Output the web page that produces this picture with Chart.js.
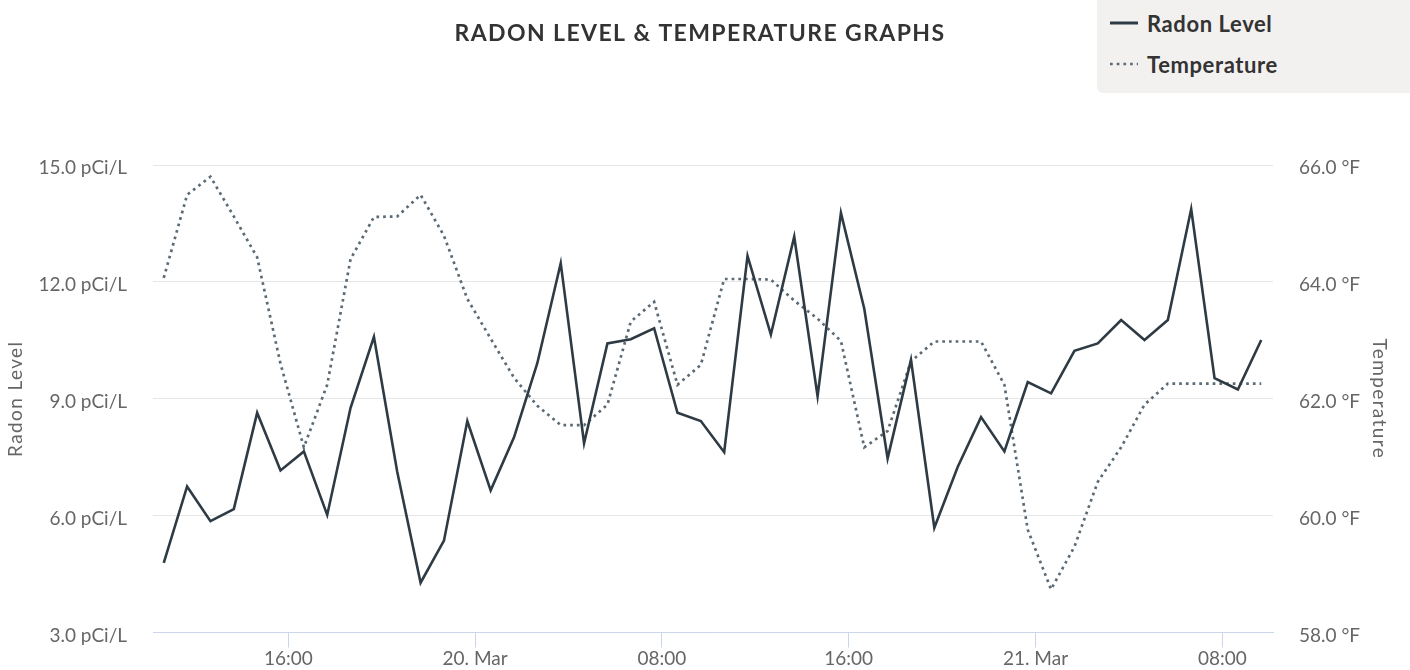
<!DOCTYPE html>
<html>
<head>
<meta charset="utf-8">
<script src="https://cdn.jsdelivr.net/npm/chart.js@4.4.1/dist/chart.umd.min.js"></script>
<style>
  html, body { margin: 0; padding: 0; background: #ffffff; }
  #wrap { position: relative; width: 1410px; height: 670px; overflow: hidden; }
  #c { position: absolute; left: 0; top: 0; }
  #legend { position: absolute; left: 1097px; top: 0; width: 313px; height: 93px;
            background: #f2f1f0; border-bottom-left-radius: 6px;
            font-family: Lato, "Open Sans", sans-serif; font-weight: bold; font-size: 22px;
            letter-spacing: 0.6px; color: #333333; }
  .item { position: absolute; left: 13px; height: 24px; display: flex; align-items: center; white-space: nowrap; }
  .item svg { margin-right: 9px; display: block; }
</style>
</head>
<body>
<div id="wrap">
  <canvas id="c" width="1410" height="670"></canvas>
  <div id="legend"></div>
</div>
<script>
// ---- data ----
const timeLabels = [
  '03-19 10:40','03-19 11:40','03-19 12:40','03-19 13:40','03-19 14:40','03-19 15:40','03-19 16:40',
  '03-19 17:40','03-19 18:40','03-19 19:40','03-19 20:40','03-19 21:40','03-19 22:40','03-19 23:40',
  '03-20 00:40','03-20 01:40','03-20 02:40','03-20 03:40','03-20 04:40','03-20 05:40','03-20 06:40',
  '03-20 07:40','03-20 08:40','03-20 09:40','03-20 10:40','03-20 11:40','03-20 12:40','03-20 13:40',
  '03-20 14:40','03-20 15:40','03-20 16:40','03-20 17:40','03-20 18:40','03-20 19:40','03-20 20:40',
  '03-20 21:40','03-20 22:40','03-20 23:40','03-21 00:40','03-21 01:40','03-21 02:40','03-21 03:40',
  '03-21 04:40','03-21 05:40','03-21 06:40','03-21 07:40','03-21 08:40','03-21 09:40'
];
const radonLevel = [
  4.79, 6.75, 5.86, 6.17, 8.64, 7.16, 7.65, 6.02, 8.77, 10.59, 7.12, 4.28,
  5.36, 8.43, 6.65, 8.01, 9.92, 12.48, 7.86, 10.42, 10.53, 10.81, 8.64, 8.43,
  7.63, 12.67, 10.65, 13.16, 9.07, 13.77, 11.31, 7.47, 10.00, 5.69, 7.25, 8.53,
  7.65, 9.43, 9.14, 10.23, 10.42, 11.02, 10.51, 11.02, 13.87, 9.53, 9.24, 10.51
];
const temperature = [
  64.07, 65.49, 65.80, 65.12, 64.42, 62.60, 61.17, 62.24, 64.39, 65.11, 65.12, 65.49,
  64.79, 63.71, 63.03, 62.36, 61.88, 61.55, 61.55, 61.90, 63.32, 63.66, 62.24, 62.58,
  64.05, 64.05, 64.04, 63.68, 63.37, 62.99, 61.17, 61.45, 62.64, 62.98, 62.98, 62.98,
  62.24, 59.76, 58.74, 59.47, 60.58, 61.17, 61.90, 62.26, 62.26, 62.26, 62.26, 62.26
];
const tickHours  = [16, 24, 32, 40, 48, 56];
const tickLabels = ['16:00', '20. Mar', '08:00', '16:00', '21. Mar', '08:00'];
const radonTicks = [3, 6, 9, 12, 15];
const tempTicks  = [58, 60, 62, 64, 66];
const seriesNames = ['Radon Level', 'Temperature'];
const titleText = 'RADON LEVEL & TEMPERATURE GRAPHS';

// hours since 19 Mar 00:00
function toHours(s) {
  const day = parseInt(s.slice(3, 5), 10) - 19;
  const h = parseInt(s.slice(6, 8), 10);
  const m = parseInt(s.slice(9, 11), 10);
  return day * 24 + h + m / 60;
}
const xs = timeLabels.map(toHours);

const FONT = 'Lato';
const radonColor = '#2e3b44';
const tempColor = '#5b6a74';

// wider tracking for the title texts (drawn before datasets), normal tracking for tick labels
const trackingPlugin = {
  id: 'tracking',
  beforeDraw(chart) { chart.ctx.letterSpacing = '1.4px'; },
  beforeDatasetsDraw(chart) { chart.ctx.letterSpacing = '0px'; }
};

function build() {
  const chart = new Chart(document.getElementById('c'), {
    type: 'line',
    data: {
      datasets: [
        {
          label: seriesNames[0],
          data: xs.map((x, i) => ({ x: x, y: radonLevel[i] })),
          yAxisID: 'y',
          borderColor: radonColor,
          backgroundColor: radonColor,
          borderWidth: 2.6,
          pointRadius: 0,
          tension: 0,
          fill: false
        },
        {
          label: seriesNames[1],
          data: xs.map((x, i) => ({ x: x, y: temperature[i] })),
          yAxisID: 'y1',
          borderColor: tempColor,
          backgroundColor: tempColor,
          borderWidth: 2.7,
          borderDash: [2.7, 4],
          pointRadius: 0,
          tension: 0,
          fill: false
        }
      ]
    },
    options: {
      responsive: false,
      animation: false,
      layout: { padding: { left: 0, top: 0, bottom: 0, right: 10 } },
      plugins: {
        legend: { display: false },
        tooltip: { enabled: false },
        title: {
          display: true,
          text: titleText,
          color: '#333333',
          font: { family: FONT, size: 23, weight: 'bold' },
          padding: { top: 20.2, bottom: 117.2 }
        }
      },
      scales: {
        x: {
          type: 'linear',
          position: 'bottom',
          min: 10.206,
          max: 58.17,
          afterBuildTicks: (s) => { s.ticks = tickHours.map(v => ({ value: v })); },
          afterFit: (s) => { s.height = 34.65; },
          ticks: {
            z: 1,
            autoSkip: false,
            maxRotation: 0,
            padding: 0,
            color: '#666666',
            font: { family: FONT, size: 19 },
            callback: (v, i) => tickLabels[i]
          },
          grid: { drawOnChartArea: false, drawTicks: true, tickLength: 15, color: '#ccd6eb', lineWidth: 1 },
          border: { display: true, color: '#ccd6eb', width: 1 }
        },
        y: {
          position: 'left',
          min: radonTicks[0],
          max: radonTicks[radonTicks.length - 1],
          afterBuildTicks: (s) => { s.ticks = radonTicks.map(v => ({ value: v })); },
          afterFit: (s) => { s.width = 153; },
          ticks: {
            z: 1,
            padding: 26,
            labelOffset: 3,
            color: '#666666',
            font: { family: FONT, size: 19 },
            callback: (v) => Number(v).toFixed(1) + ' pCi/L'
          },
          grid: {
            drawTicks: false,
            lineWidth: 1,
            color: (ctx) => (ctx.tick && ctx.tick.value === radonTicks[0]) ? 'rgba(0,0,0,0)' : '#e6e6e6'
          },
          border: { display: false },
          title: {
            display: true,
            text: seriesNames[0],
            color: '#666666',
            font: { family: FONT, size: 19 },
            padding: { top: 4, bottom: 0 }
          }
        },
        y1: {
          position: 'right',
          min: tempTicks[0],
          max: tempTicks[tempTicks.length - 1],
          afterBuildTicks: (s) => { s.ticks = tempTicks.map(v => ({ value: v })); },
          afterFit: (s) => { s.width = 127; },
          ticks: {
            z: 1,
            padding: 26,
            labelOffset: 3,
            color: '#666666',
            font: { family: FONT, size: 19 },
            callback: (v) => Number(v).toFixed(1) + ' °F'
          },
          grid: { drawOnChartArea: false, drawTicks: false },
          border: { display: false },
          title: {
            display: true,
            text: seriesNames[1],
            color: '#666666',
            font: { family: FONT, size: 19 },
            padding: { top: 9.6, bottom: 0 }
          }
        }
      }
    },
    plugins: [trackingPlugin]
  });

  // HTML legend built from the chart's datasets
  const legend = document.getElementById('legend');
  const tops = [11, 52];
  chart.data.datasets.forEach((ds, i) => {
    const item = document.createElement('div');
    item.className = 'item';
    item.style.top = tops[i] + 'px';
    const dash = ds.borderDash ? ' stroke-dasharray="' + ds.borderDash.join(' ') + '"' : '';
    item.innerHTML =
      '<svg width="28" height="6" viewBox="0 0 28 6"><line x1="0" y1="3" x2="28" y2="3" stroke="' +
      ds.borderColor + '" stroke-width="' + (ds.borderDash ? 2.7 : 3) + '"' + dash + '/></svg>' +
      '<span>' + ds.label + '</span>';
    legend.appendChild(item);
  });
}

if (document.fonts && document.fonts.load) {
  Promise.all([
    document.fonts.load('19px Lato'),
    document.fonts.load('bold 23px Lato')
  ]).then(build, build);
} else {
  build();
}
</script>
</body>
</html>
